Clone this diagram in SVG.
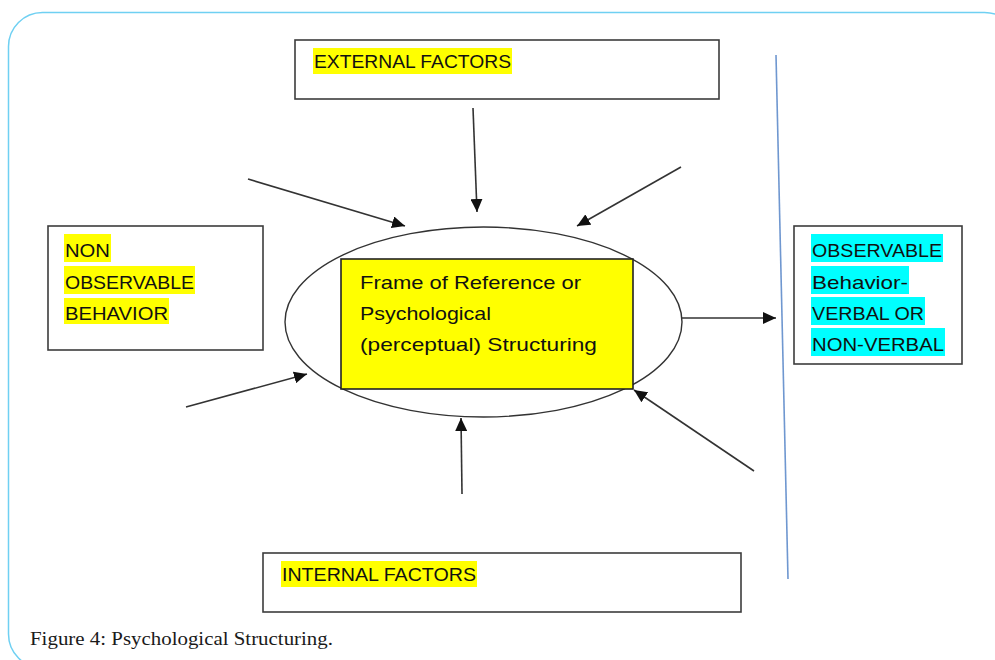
<svg xmlns="http://www.w3.org/2000/svg" width="995" height="660" viewBox="0 0 995 660">
<style>
.box{fill:#fff;stroke:#3c3c3c;stroke-width:1.6}
.t{font-family:"Liberation Sans",Arial,sans-serif;font-size:19px;fill:#111}
.hy{fill:#ffff00}
.hc{fill:#00ffff}
.con{stroke:#333;stroke-width:1.6;fill:none;marker-end:url(#ah)}
</style>
<defs>
<marker id="ah" markerUnits="userSpaceOnUse" markerWidth="14" markerHeight="12" refX="13" refY="6" orient="auto">
<path d="M0,0 L13,6 L0,12 Z" fill="#111"/>
</marker>
</defs>
<rect width="995" height="660" fill="#fff"/>
<rect x="8.5" y="12.5" width="1010" height="655.5" rx="34" fill="none" stroke="#6fd0f2" stroke-width="1.5"/>
<line x1="776" y1="55" x2="788" y2="579" stroke="#6f97d0" stroke-width="1.6"/>

<g id="external">
<rect class="box" x="295" y="40" width="424" height="59"/>
<rect class="hy" x="313" y="48" width="199" height="26"/>
<text class="t" x="314" y="68" textLength="197" lengthAdjust="spacingAndGlyphs">EXTERNAL FACTORS</text>
</g>

<g id="nonobservable">
<rect class="box" x="48" y="226" width="215" height="124"/>
<rect class="hy" x="64" y="234" width="47" height="28"/>
<rect class="hy" x="64" y="266" width="131" height="28"/>
<rect class="hy" x="64" y="298" width="105" height="26"/>
<text class="t" x="65" y="257" textLength="45" lengthAdjust="spacingAndGlyphs">NON</text>
<text class="t" x="65" y="289" textLength="129" lengthAdjust="spacingAndGlyphs">OBSERVABLE</text>
<text class="t" x="65" y="320" textLength="103" lengthAdjust="spacingAndGlyphs">BEHAVIOR</text>
</g>

<g id="frame">
<ellipse cx="483.5" cy="322" rx="198.5" ry="95" fill="#fff" stroke="#333" stroke-width="1.4"/>
<rect x="341" y="259" width="292" height="130" fill="#ffff00" stroke="#222" stroke-width="1.6"/>
<text class="t" x="360" y="289" textLength="221" lengthAdjust="spacingAndGlyphs">Frame of Reference or</text>
<text class="t" x="360" y="320" textLength="131" lengthAdjust="spacingAndGlyphs">Psychological</text>
<text class="t" x="360" y="351" textLength="237" lengthAdjust="spacingAndGlyphs">(perceptual) Structuring</text>
</g>

<g id="observable">
<rect class="box" x="794" y="226" width="168" height="138"/>
<rect class="hc" x="811" y="234" width="132" height="28"/>
<rect class="hc" x="811" y="266" width="98" height="28"/>
<rect class="hc" x="811" y="297" width="114" height="28"/>
<rect class="hc" x="811" y="328" width="134" height="28"/>
<text class="t" x="812" y="257" textLength="130" lengthAdjust="spacingAndGlyphs">OBSERVABLE</text>
<text class="t" x="812" y="289" textLength="96" lengthAdjust="spacingAndGlyphs">Behavior-</text>
<text class="t" x="812" y="320" textLength="112" lengthAdjust="spacingAndGlyphs">VERBAL OR</text>
<text class="t" x="812" y="351" textLength="132" lengthAdjust="spacingAndGlyphs">NON-VERBAL</text>
</g>

<g id="internal">
<rect class="box" x="263" y="553" width="478" height="59"/>
<rect class="hy" x="281" y="561" width="196" height="26"/>
<text class="t" x="282" y="581" textLength="194" lengthAdjust="spacingAndGlyphs">INTERNAL FACTORS</text>
</g>

<g id="connectors">
<line class="con" x1="473" y1="108" x2="477" y2="212"/>
<line class="con" x1="681" y1="167" x2="577" y2="226"/>
<line class="con" x1="248" y1="179" x2="405" y2="226"/>
<line class="con" x1="186" y1="407" x2="307" y2="374"/>
<line class="con" x1="462" y1="494" x2="461" y2="418"/>
<line class="con" x1="754" y1="471" x2="634" y2="390"/>
<line class="con" x1="682" y1="318" x2="776" y2="318"/>
</g>

<text x="30" y="645" font-family="'Liberation Serif','Times New Roman',serif" font-size="19" fill="#1a1a1a" textLength="303" lengthAdjust="spacingAndGlyphs">Figure 4: Psychological Structuring.</text>
</svg>
